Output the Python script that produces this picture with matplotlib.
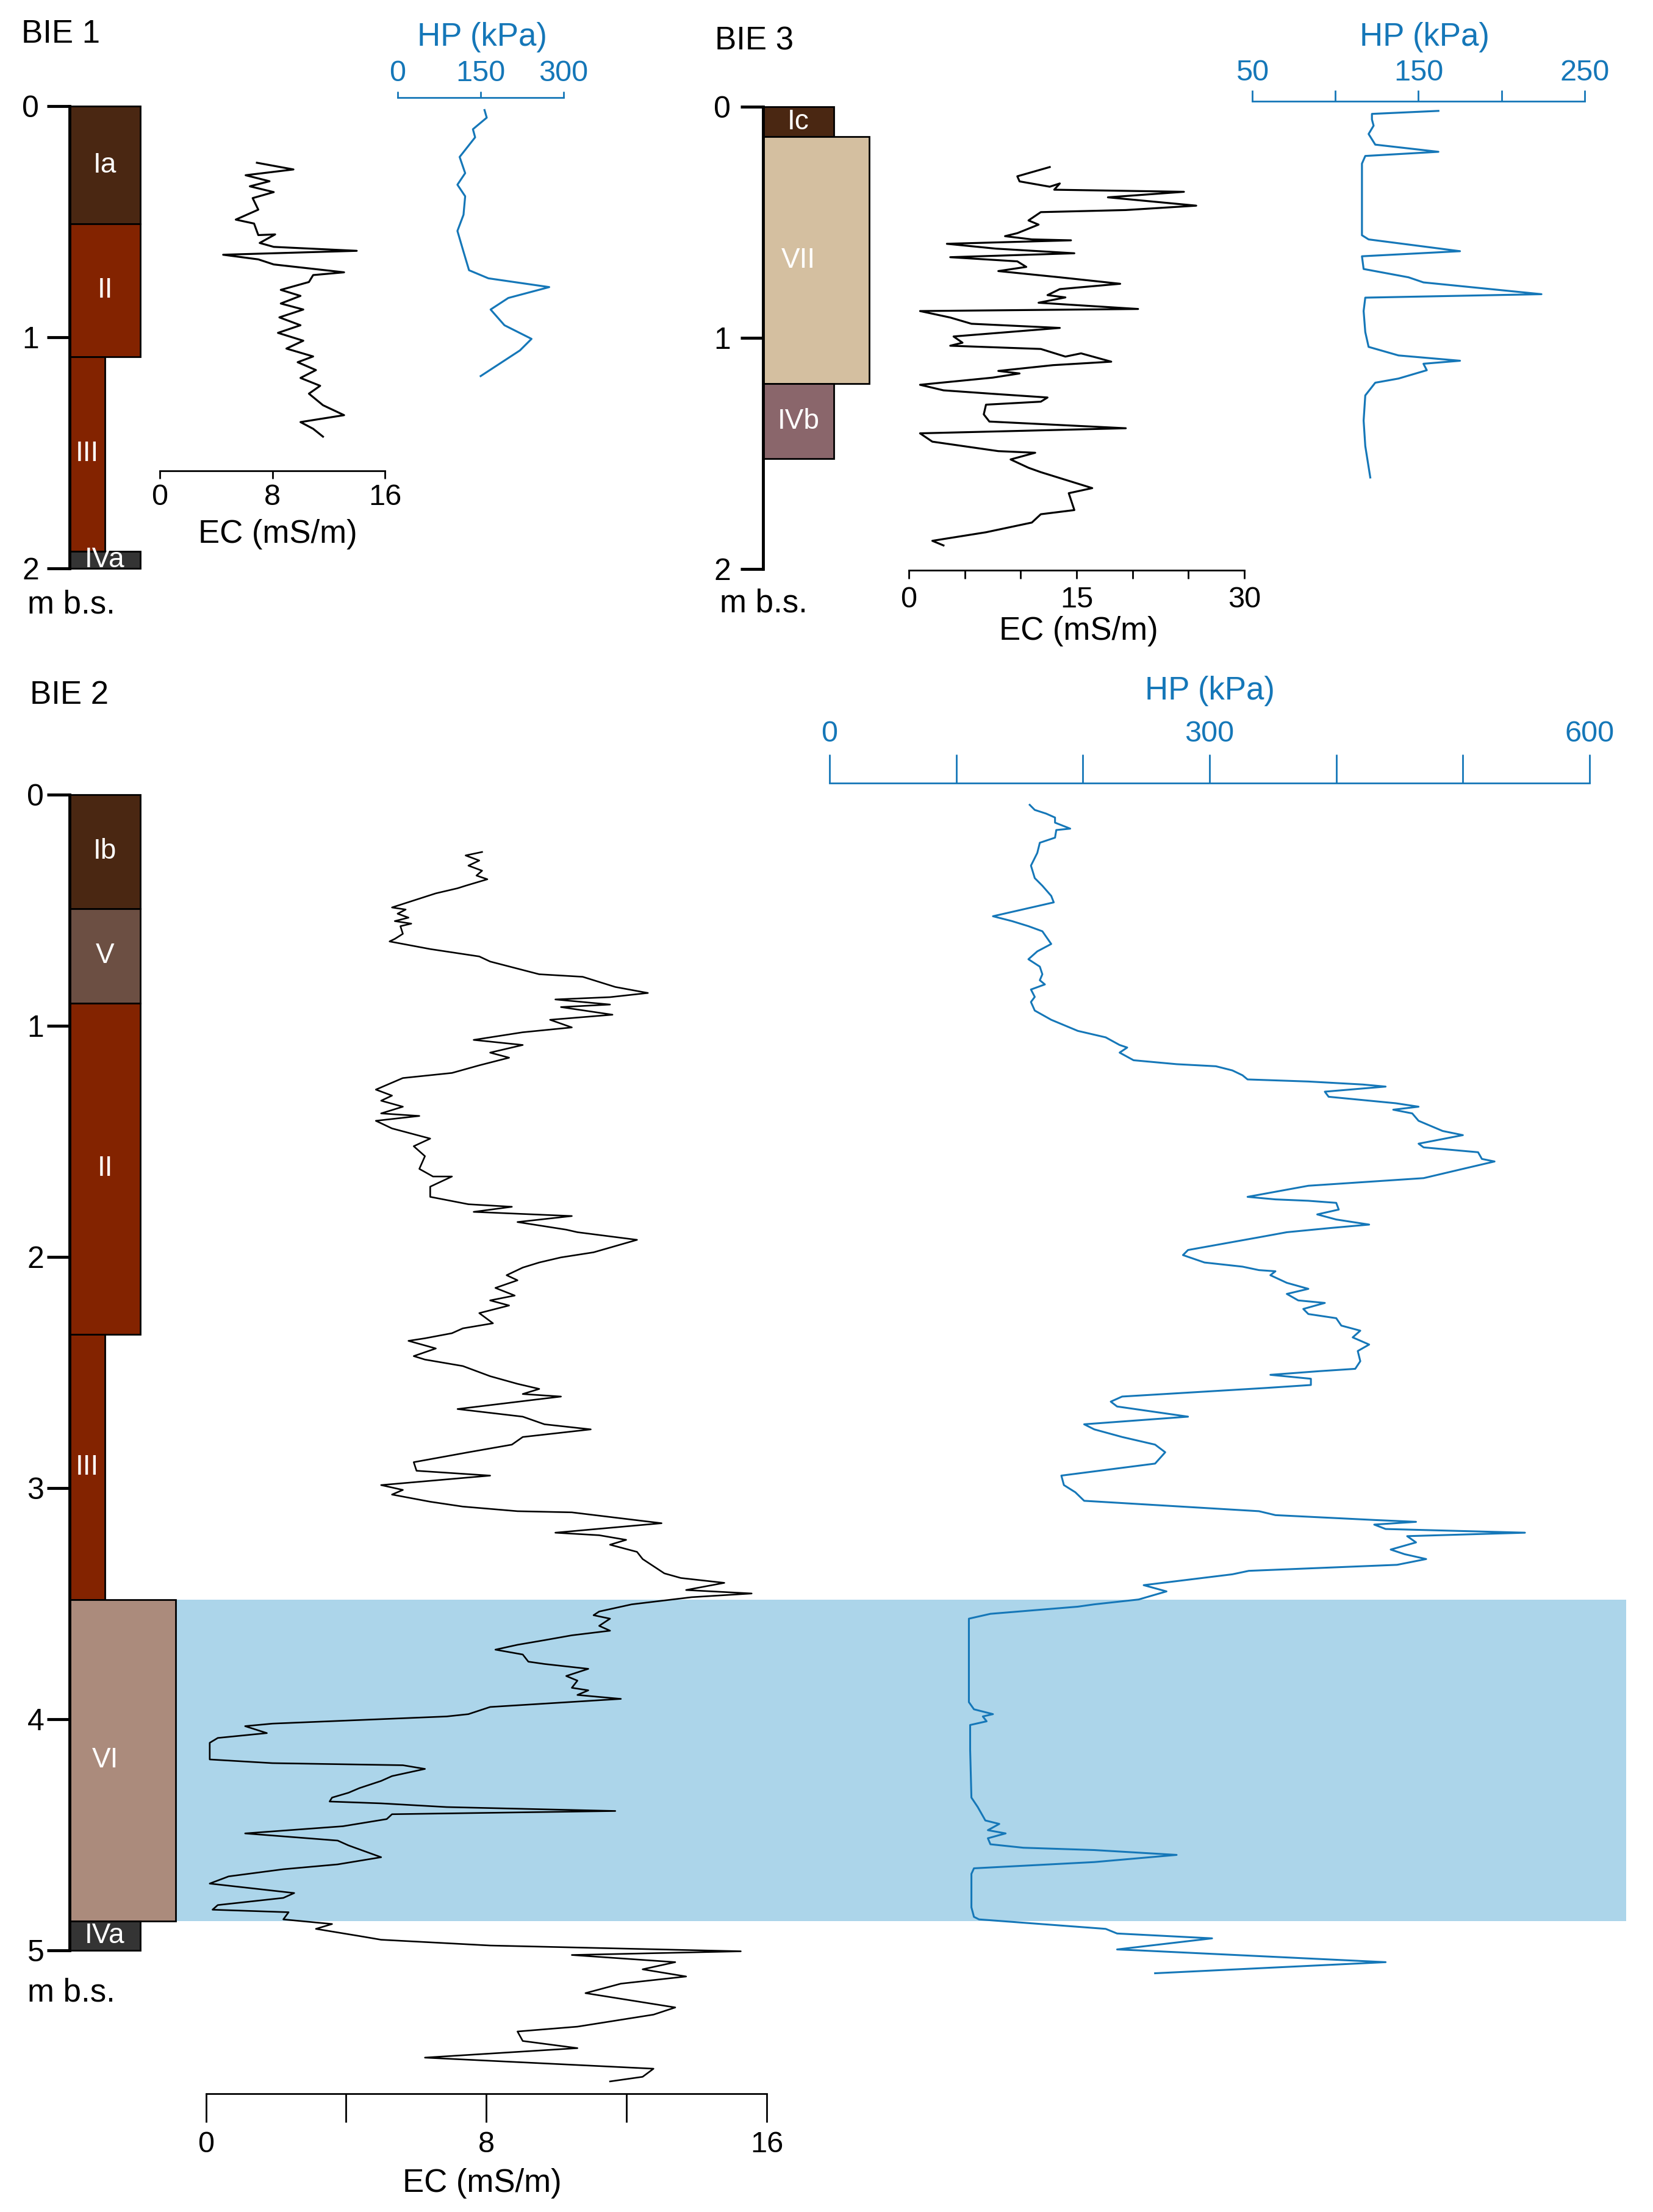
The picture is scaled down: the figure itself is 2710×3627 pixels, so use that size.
import numpy as np
import matplotlib
matplotlib.use("Agg")
import matplotlib.pyplot as plt
from matplotlib.patches import Rectangle

plt.rcParams['font.family'] = ['Liberation Sans', 'DejaVu Sans']

# ---- layer logs (depth in m b.s.) ----
bie1_layers = ["Ia", "II", "III", "IVa"]
bie1_tops = [0.0, 0.51, 1.085, 1.925]
bie1_bottoms = [0.51, 1.085, 1.925, 2.0]

bie3_layers = ["Ic", "VII", "IVb"]
bie3_tops = [0.0, 0.13, 1.198]
bie3_bottoms = [0.13, 1.198, 1.523]

bie2_layers = ["Ib", "V", "II", "III", "VI", "IVa"]
bie2_tops = [0.0, 0.493, 0.902, 2.335, 3.483, 4.873]
bie2_bottoms = [0.493, 0.902, 2.335, 3.483, 4.873, 5.0]

# saturated zone in BIE 2
bie2_wet = (3.483, 4.873)

# ---- EC / HP profiles as (depth m, value) ----
bie1_ec = [(0.245, 6.9), (0.274, 9.5), (0.299, 6.1), (0.325, 7.8), (0.347, 6.4), (0.372, 8.1),
           (0.398, 6.6), (0.448, 7.0), (0.491, 5.4), (0.508, 6.7), (0.558, 7.0), (0.555, 8.2),
           (0.592, 7.1), (0.609, 8.1), (0.626, 14.0), (0.643, 4.5), (0.663, 7.0), (0.685, 8.1),
           (0.719, 13.1), (0.731, 10.9), (0.761, 10.6), (0.795, 8.6), (0.821, 10.0), (0.854, 8.6),
           (0.880, 10.2), (0.914, 8.5), (0.948, 10.0), (0.981, 8.4), (1.015, 10.2), (1.049, 9.0),
           (1.083, 10.9), (1.108, 9.8), (1.142, 11.1), (1.176, 10.0), (1.210, 11.4), (1.244, 10.6),
           (1.294, 11.6), (1.337, 13.1), (1.367, 10.0), (1.396, 10.9), (1.430, 11.6)]

bie1_hp = [(0.017, 157), (0.05, 161), (0.10, 136), (0.135, 140), (0.22, 112), (0.29, 122),
           (0.34, 108), (0.39, 122), (0.47, 119), (0.54, 108), (0.63, 119), (0.71, 129),
           (0.745, 164), (0.783, 274), (0.83, 200), (0.88, 168), (0.948, 193), (1.007, 242),
           (1.057, 221), (1.168, 150)]

bie3_ec = [(0.261, 12.6), (0.301, 9.7), (0.323, 9.9), (0.346, 12.6), (0.332, 13.5), (0.359, 13.0),
           (0.368, 24.6), (0.392, 17.8), (0.428, 25.7), (0.447, 19.4), (0.456, 11.8), (0.492, 10.7),
           (0.510, 11.6), (0.547, 9.7), (0.560, 8.6), (0.574, 11.0), (0.578, 14.5), (0.593, 3.4),
           (0.614, 7.8), (0.634, 14.8), (0.651, 3.7), (0.669, 9.7), (0.693, 10.5), (0.711, 8.0),
           (0.738, 13.5), (0.766, 18.9), (0.789, 13.5), (0.815, 12.4), (0.825, 14.0), (0.848, 11.6),
           (0.875, 20.5), (0.884, 1.0), (0.912, 3.7), (0.939, 5.6), (0.957, 13.5), (0.994, 4.0),
           (1.021, 4.8), (1.034, 3.7), (1.048, 11.8), (1.081, 14.0), (1.067, 15.4), (1.103, 18.1),
           (1.118, 12.9), (1.143, 8.0), (1.154, 9.9), (1.172, 7.5), (1.203, 1.0), (1.227, 3.1),
           (1.242, 7.5), (1.258, 12.4), (1.276, 11.8), (1.289, 6.9), (1.331, 6.7), (1.362, 7.2),
           (1.391, 19.4), (1.413, 1.0), (1.449, 2.1), (1.490, 8.0), (1.497, 11.3), (1.526, 9.1),
           (1.562, 10.7), (1.581, 11.8), (1.650, 16.4), (1.672, 14.3), (1.745, 14.8), (1.763, 11.8),
           (1.799, 11.0), (1.841, 6.9), (1.878, 2.1), (1.898, 3.1)]

bie3_hp = [(0.018, 162), (0.031, 122), (0.055, 122), (0.082, 123), (0.118, 120), (0.164, 124),
           (0.195, 162), (0.213, 118), (0.246, 116), (0.356, 116), (0.556, 116), (0.574, 120),
           (0.625, 175), (0.647, 116), (0.702, 117), (0.738, 144), (0.760, 153), (0.811, 224),
           (0.826, 118), (0.884, 117), (0.975, 118), (1.039, 120), (1.076, 138), (1.099, 175),
           (1.112, 153), (1.140, 155), (1.176, 138), (1.194, 124), (1.249, 118), (1.358, 117),
           (1.468, 118), (1.604, 121)]

bie2_ec = [(0.248, 7.88), (0.263, 7.41), (0.285, 7.80), (0.307, 7.49), (0.329, 7.88), (0.350, 7.72),
           (0.366, 8.03), (0.394, 7.41), (0.405, 7.18), (0.427, 6.56), (0.488, 5.31), (0.497, 5.70),
           (0.515, 5.47), (0.532, 5.78), (0.547, 5.39), (0.558, 5.86), (0.569, 5.55), (0.602, 5.62),
           (0.624, 5.39), (0.635, 5.24), (0.668, 6.40), (0.700, 7.80), (0.722, 8.11), (0.777, 9.51),
           (0.788, 10.75), (0.832, 11.68), (0.858, 12.61), (0.876, 11.53), (0.886, 9.97), (0.908, 11.53),
           (0.919, 10.13), (0.952, 11.60), (0.974, 9.82), (1.007, 10.44), (1.028, 9.04), (1.061, 7.64),
           (1.083, 9.04), (1.116, 8.11), (1.138, 8.65), (1.171, 7.80), (1.204, 7.02), (1.226, 5.62),
           (1.276, 4.85), (1.302, 5.31), (1.324, 5.00), (1.350, 5.62), (1.379, 5.00), (1.390, 6.09),
           (1.411, 4.85), (1.444, 5.31), (1.488, 6.40), (1.521, 5.93), (1.564, 6.25), (1.619, 6.09),
           (1.652, 6.48), (1.652, 7.02), (1.696, 6.40), (1.740, 6.40), (1.772, 7.49), (1.783, 8.73),
           (1.805, 7.64), (1.823, 10.44), (1.849, 8.89), (1.882, 10.28), (1.893, 10.60), (1.926, 12.30),
           (1.980, 11.06), (2.002, 10.13), (2.024, 9.51), (2.046, 9.04), (2.079, 8.58), (2.101, 8.89),
           (2.134, 8.26), (2.167, 8.81), (2.188, 8.11), (2.210, 8.65), (2.243, 7.80), (2.287, 8.19),
           (2.309, 7.33), (2.330, 7.02), (2.352, 6.25), (2.363, 5.78), (2.396, 6.56), (2.429, 5.93),
           (2.444, 6.25), (2.472, 7.33), (2.516, 8.11), (2.549, 8.89), (2.571, 9.51), (2.593, 9.04),
           (2.604, 10.13), (2.658, 7.18), (2.691, 9.04), (2.724, 9.66), (2.746, 10.98), (2.779, 9.04),
           (2.812, 8.73), (2.845, 7.49), (2.888, 5.93), (2.925, 6.01), (2.946, 8.11), (2.987, 5.00),
           (3.008, 5.62), (3.028, 5.31), (3.059, 6.40), (3.080, 7.33), (3.100, 8.89), (3.105, 10.44),
           (3.152, 13.00), (3.193, 9.97), (3.204, 11.22), (3.224, 11.99), (3.245, 11.53), (3.276, 12.30),
           (3.307, 12.46), (3.338, 12.77), (3.369, 13.08), (3.389, 13.55), (3.410, 14.79), (3.441, 13.70),
           (3.456, 15.57), (3.472, 13.86), (3.503, 12.15), (3.534, 11.22), (3.550, 11.06), (3.565, 11.53),
           (3.596, 11.22), (3.617, 11.53), (3.637, 10.44), (3.658, 9.66), (3.678, 8.89), (3.699, 8.26),
           (3.720, 9.04), (3.751, 9.20), (3.761, 9.66), (3.782, 10.91), (3.813, 10.28), (3.833, 10.60),
           (3.864, 10.44), (3.875, 10.91), (3.895, 10.60), (3.912, 11.84), (3.947, 8.11), (3.978, 7.49),
           (3.988, 6.87), (4.019, 1.90), (4.030, 1.12), (4.060, 1.74), (4.081, 0.34), (4.102, 0.11),
           (4.174, 0.11), (4.190, 1.90), (4.199, 5.62), (4.215, 6.25), (4.246, 5.31), (4.267, 5.00),
           (4.298, 4.38), (4.318, 4.07), (4.339, 3.60), (4.356, 3.53), (4.364, 5.00), (4.380, 6.87),
           (4.397, 11.68), (4.411, 5.31), (4.432, 5.16), (4.463, 3.91), (4.494, 1.12), (4.525, 3.76),
           (4.546, 4.07), (4.597, 5.00), (4.628, 3.76), (4.649, 2.21), (4.680, 0.65), (4.711, 0.11),
           (4.752, 2.52), (4.773, 2.21), (4.804, 0.34), (4.824, 0.19), (4.835, 2.36), (4.866, 2.21),
           (4.886, 3.60), (4.907, 3.14), (4.938, 4.38), (4.954, 5.00), (4.979, 8.11), (5.004, 15.26),
           (5.020, 10.44), (5.051, 13.39), (5.082, 12.46), (5.113, 13.70), (5.144, 11.84), (5.185, 10.83),
           (5.247, 13.39), (5.278, 12.77), (5.330, 10.60), (5.351, 8.89), (5.392, 9.04), (5.423, 10.60),
           (5.464, 6.25), (5.512, 12.77), (5.547, 12.46), (5.567, 11.53)]

bie2_hp = [(0.044, 158), (0.066, 162), (0.082, 171), (0.099, 178), (0.121, 178), (0.147, 190),
           (0.153, 179), (0.186, 178), (0.208, 166), (0.252, 164), (0.307, 159), (0.361, 162),
           (0.394, 168), (0.438, 175), (0.466, 177), (0.526, 129), (0.547, 144), (0.569, 157),
           (0.591, 168), (0.646, 175), (0.678, 164), (0.712, 157), (0.744, 166), (0.777, 168),
           (0.803, 166), (0.821, 170), (0.843, 159), (0.875, 162), (0.897, 159), (0.934, 162),
           (0.974, 175), (1.022, 196), (1.050, 218), (1.083, 229), (1.094, 235), (1.116, 229),
           (1.149, 240), (1.166, 274), (1.175, 305), (1.193, 318), (1.214, 326), (1.232, 330),
           (1.241, 378), (1.254, 421), (1.263, 439), (1.285, 391), (1.307, 394), (1.335, 447),
           (1.350, 465), (1.363, 445), (1.379, 460), (1.411, 465), (1.455, 484), (1.473, 500),
           (1.510, 465), (1.526, 469), (1.547, 512), (1.576, 515), (1.587, 525), (1.619, 500),
           (1.659, 469), (1.692, 378), (1.740, 330), (1.751, 352), (1.757, 378), (1.766, 400),
           (1.795, 402), (1.816, 385), (1.838, 400), (1.860, 426), (1.875, 395), (1.893, 361),
           (1.915, 339), (1.970, 283), (1.992, 279), (2.024, 296), (2.042, 326), (2.057, 339),
           (2.062, 352), (2.079, 348), (2.112, 361), (2.138, 378), (2.160, 361), (2.188, 370),
           (2.199, 391), (2.225, 374), (2.247, 378), (2.265, 400), (2.297, 404), (2.319, 419),
           (2.348, 413), (2.379, 426), (2.407, 417), (2.451, 419), (2.484, 415), (2.494, 387),
           (2.510, 348), (2.527, 380), (2.554, 380), (2.567, 344), (2.604, 231), (2.626, 222),
           (2.647, 227), (2.691, 283), (2.724, 201), (2.746, 209), (2.779, 231), (2.812, 257),
           (2.845, 265), (2.894, 257), (2.946, 183), (2.987, 185), (3.018, 194), (3.055, 201),
           (3.100, 339), (3.117, 352), (3.138, 430), (3.146, 463), (3.158, 430), (3.177, 439),
           (3.193, 549), (3.208, 456), (3.235, 463), (3.266, 443), (3.286, 454), (3.307, 471),
           (3.332, 448), (3.358, 331), (3.373, 318), (3.420, 248), (3.447, 266), (3.482, 244),
           (3.503, 209), (3.513, 196), (3.544, 127), (3.565, 110), (3.720, 110), (3.926, 110),
           (3.957, 114), (3.978, 129), (3.988, 121), (4.009, 124), (4.025, 111), (4.133, 111),
           (4.339, 112), (4.380, 117), (4.438, 123), (4.453, 134), (4.480, 125), (4.494, 139),
           (4.515, 125), (4.541, 127), (4.556, 153), (4.566, 209), (4.587, 274), (4.618, 209),
           (4.645, 114), (4.669, 112), (4.814, 112), (4.855, 114), (4.866, 118), (4.907, 218),
           (4.927, 227), (4.948, 302), (4.996, 227), (5.000, 244), (5.051, 439), (5.099, 257)]

# ---- styling ----
LAYER_COLORS = {"Ia": "#4a2712", "Ib": "#4a2712", "Ic": "#4a2712",
                "II": "#832300", "III": "#832300",
                "IVa": "#343434", "IVb": "#8a666b",
                "V": "#6c4f43", "VI": "#ab8b7c", "VII": "#d4bfa0"}
WIDTH = {"III": 0.5, "VI": 1.5, "VII": 1.5}
COL_W = 116
HP_BLUE = "#1577b8"
WET_BLUE = "#acd5ea"

W, H = 2710, 3627
PX_M = 379.0  # pixels per metre of depth

fig = plt.figure(figsize=(W / 100, H / 100), dpi=100)


def depth_axes(x0, x1, d_top, d_bot, y_zero):
    top = y_zero + d_top * PX_M
    bot = y_zero + d_bot * PX_M
    ax = fig.add_axes([x0 / W, 1 - bot / H, (x1 - x0) / W, (bot - top) / H])
    ax.set_ylim(d_bot, d_top)
    ax.patch.set_visible(False)
    for s in ax.spines.values():
        s.set_visible(False)
    ax.tick_params(left=False, labelleft=False, bottom=False, labelbottom=False)
    return ax


def draw_log(x_left, y_zero, names, tops, bottoms, max_depth, pad):
    ax = depth_axes(x_left, x_left + 200, 0, max_depth, y_zero)
    ax.set_xlim(0, 200)
    for name, t, b in zip(names, tops, bottoms):
        w = COL_W * WIDTH.get(name, 1.0)
        ax.add_patch(Rectangle((0, t), w, b - t, facecolor=LAYER_COLORS[name],
                               edgecolor='black', lw=2, clip_on=False))
        ax.text(min(w, COL_W) / 2, (t + b) / 2, name, color='white', fontsize=33,
                ha='center', va='center')
    ax.spines['left'].set_visible(True)
    ax.spines['left'].set_linewidth(3.5)
    ax.set_yticks(np.arange(0, max_depth + 1))
    ax.set_yticklabels([str(d) for d in range(0, max_depth + 1)])
    ax.tick_params(axis='y', left=True, labelleft=True, length=27, width=3.5,
                   labelsize=36, pad=pad)
    return ax


def draw_trace(data, x0, x1, xlim, ticks, labels, d_top, d_bot, y_zero, side,
               color, tick_len, pad, lw):
    ax = depth_axes(x0, x1, d_top, d_bot, y_zero)
    ax.set_xlim(*xlim)
    depth = [p[0] for p in data]
    value = [p[1] for p in data]
    ax.plot(value, depth, color=color, lw=lw, clip_on=False)
    ax.spines[side].set_visible(True)
    ax.spines[side].set_color(color)
    ax.spines[side].set_linewidth(2)
    ax.set_xticks(ticks)
    ax.set_xticklabels(labels)
    if side == 'bottom':
        ax.tick_params(axis='x', bottom=True, labelbottom=True)
    else:
        ax.tick_params(axis='x', top=True, labeltop=True, bottom=False, labelbottom=False)
    ax.tick_params(axis='x', direction='out', length=tick_len, width=2, colors=color,
                   labelsize=35, pad=pad)
    return ax


def label(x, y, s, color='black', ha='center', size=38):
    fig.text(x / W, 1 - y / H, s, color=color, ha=ha, va='center', fontsize=size)


# ---- BIE 1 ----
y1 = 174
draw_log(114, y1, bie1_layers, bie1_tops, bie1_bottoms, 2, 9)
draw_trace(bie1_ec, 262, 631, (0, 16), [0, 8, 16], ['0', '8', '16'],
           0, (772 - y1) / PX_M, y1, 'bottom', 'black', 9, 6, 2.3)
draw_trace(bie1_hp, 652, 924, (0, 300), [0, 150, 300], ['0', '150', '300'],
           (160 - y1) / PX_M, 1.3, y1, 'top', HP_BLUE, 7, 5, 2.3)
label(35, 56, "BIE 1", ha='left')
label(45, 992, "m b.s.", ha='left')
label(455, 876, "EC (mS/m)")
label(790, 61, "HP (kPa)", color=HP_BLUE)

# ---- BIE 3 ----
y3 = 175
draw_log(1251, y3, bie3_layers, bie3_tops, bie3_bottoms, 2, 11)
draw_trace(bie3_ec, 1490, 2040, (0, 30), np.arange(0, 31, 5),
           ['0', '', '', '15', '', '', '30'],
           0, (935 - y3) / PX_M, y3, 'bottom', 'black', 10, 9, 2.3)
draw_trace(bie3_hp, 2053, 2598, (50, 250), np.arange(50, 251, 50),
           ['50', '', '150', '', '250'],
           (166 - y3) / PX_M, 1.7, y3, 'top', HP_BLUE, 13, 4, 2.3)
label(1172, 68, "BIE 3", ha='left')
label(1180, 990, "m b.s.", ha='left')
label(1768, 1035, "EC (mS/m)")
label(2335, 61, "HP (kPa)", color=HP_BLUE)

# ---- BIE 2 ----
y2 = 1303
band = depth_axes(288, 2666, bie2_wet[0], bie2_wet[1], y2)
band.set_xlim(0, 1)
band.axhspan(bie2_wet[0], bie2_wet[1], color=WET_BLUE, lw=0)
draw_log(114, y2, bie2_layers, bie2_tops, bie2_bottoms, 5, 3)
draw_trace(bie2_ec, 337.5, 1257, (0, 16), np.arange(0, 17, 4),
           ['0', '', '8', '', '16'],
           0, (3433 - y2) / PX_M, y2, 'bottom', 'black', 34, 10, 1.9)
draw_trace(bie2_hp, 1360, 2606, (0, 600), np.arange(0, 601, 100),
           ['0', '', '', '300', '', '', '600'],
           (1284 - y2) / PX_M, 5.3, y2, 'top', HP_BLUE, 34, 8, 2.2)
label(49, 1140, "BIE 2", ha='left')
label(45, 3268, "m b.s.", ha='left')
label(790, 3580, "EC (mS/m)")
label(1983, 1133, "HP (kPa)", color=HP_BLUE)

fig.savefig("out.png", dpi=100)
